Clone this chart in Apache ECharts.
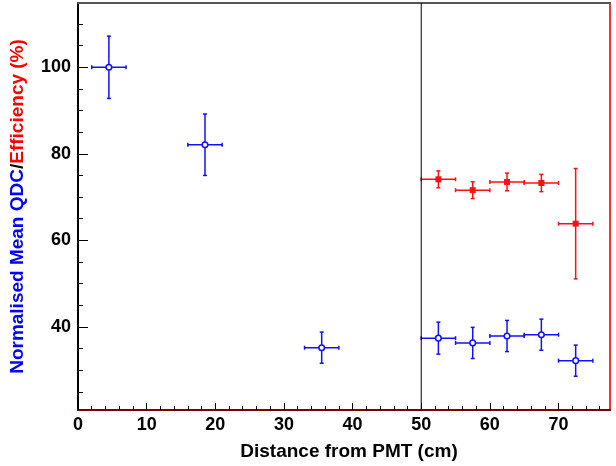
<!DOCTYPE html>
<html>
<head>
<meta charset="utf-8">
<script src="https://cdn.jsdelivr.net/npm/echarts@6/dist/echarts.min.js"></script>
<style>
html,body{margin:0;padding:0;background:#fff;}
#chart{width:616px;height:466px;}
</style>
</head>
<body>
<div id="chart"></div>
<script>
// Normalised mean QDC (blue, open circles)
const qdcX = [4.5, 18.5, 35.5, 52.5, 57.5, 62.5, 67.5, 72.5];
const qdcXErr = [2.5, 2.5, 2.5, 2.5, 2.5, 2.5, 2.5, 2.5];
const qdcY = [100, 82.1, 35.2, 37.4, 36.3, 37.9, 38.2, 32.2];
const qdcYErr = [7.2, 7.1, 3.6, 3.7, 3.6, 3.6, 3.6, 3.6];
// Efficiency (red, filled squares)
const effX = [52.5, 57.5, 62.5, 67.5, 72.5];
const effXErr = [2.5, 2.5, 2.5, 2.5, 2.5];
const effY = [74.1, 71.6, 73.5, 73.25, 63.85];
const effYErr = [1.95, 1.95, 2.05, 2.0, 12.75];
// axes
const xMin = 0, xMax = 77.5;
const yMin = 20.8, yMax = 114.85;
const xMajorTicks = [0, 10, 20, 30, 40, 50, 60, 70];
const xMinorTicks = [2, 4, 6, 8, 12, 14, 16, 18, 22, 24, 26, 28, 32, 34, 36, 38, 42, 44, 46, 48, 52, 54, 56, 58, 62, 64, 66, 68, 72, 74, 76];
const yMajorTicks = [40, 60, 80, 100];
const yMinorTicks = [25, 30, 35, 45, 50, 55, 65, 70, 75, 85, 90, 95, 105, 110];
const vLineX = 50;

const chart = echarts.init(document.getElementById('chart'), null, {renderer: 'canvas'});
const FONT = '"Liberation Sans", Arial, sans-serif';

function errData(xs, xe, ys, ye) {
  return xs.map((x, i) => [x, ys[i], xe[i], ye[i]]);
}

function makeRender(color, marker) {
  return function (params, api) {
    const x = api.value(0), y = api.value(1), xe = api.value(2), ye = api.value(3);
    const c = api.coord([x, y]);
    const l = api.coord([x - xe, y]);
    const r = api.coord([x + xe, y]);
    const t = api.coord([x, y + ye]);
    const b = api.coord([x, y - ye]);
    const st = {stroke: color, lineWidth: 1.5};
    const cap = 2;
    const children = [
      {type: 'line', shape: {x1: l[0], y1: c[1], x2: r[0], y2: c[1]}, style: st},
      {type: 'line', shape: {x1: c[0], y1: t[1], x2: c[0], y2: b[1]}, style: st},
      {type: 'line', shape: {x1: l[0], y1: c[1] - cap, x2: l[0], y2: c[1] + cap}, style: st},
      {type: 'line', shape: {x1: r[0], y1: c[1] - cap, x2: r[0], y2: c[1] + cap}, style: st},
      {type: 'line', shape: {x1: c[0] - cap, y1: t[1], x2: c[0] + cap, y2: t[1]}, style: st},
      {type: 'line', shape: {x1: c[0] - cap, y1: b[1], x2: c[0] + cap, y2: b[1]}, style: st}
    ];
    if (marker === 'circle') {
      children.push({type: 'circle', shape: {cx: c[0], cy: c[1], r: 2.8}, style: {fill: '#fff', stroke: color, lineWidth: 1.5}});
    } else {
      children.push({type: 'rect', shape: {x: c[0] - 3, y: c[1] - 3, width: 6, height: 6}, style: {fill: color}});
    }
    return {type: 'group', children: children};
  };
}

const labelStyle = {fontFamily: FONT, fontWeight: 'bold', fontSize: 18, color: '#000'};

chart.setOption({
  animation: false,
  backgroundColor: '#fff',
  grid: {left: 75, right: 6, top: 3, bottom: 54, containLabel: false},
  xAxis: [
    {
      type: 'value', min: xMin, max: xMax, position: 'bottom',
      axisLine: {show: true, onZero: false, lineStyle: {color: '#7a0000', width: 2}},
      axisTick: {show: true, inside: true, length: 7, customValues: xMajorTicks, lineStyle: {color: '#000', width: 1}},
      axisLabel: Object.assign({margin: 6, customValues: xMajorTicks, showMaxLabel: true}, labelStyle),
      splitLine: {show: false},
      name: 'Distance from PMT (cm)', nameLocation: 'middle', nameGap: 32,
      nameTextStyle: {fontFamily: FONT, fontWeight: 'bold', fontSize: 19, color: '#000', padding: [0, 0, 0, 10]}
    },
    {
      type: 'value', min: xMin, max: xMax, position: 'bottom',
      axisLine: {show: false, onZero: false},
      axisTick: {show: true, inside: true, length: 4, customValues: xMinorTicks, lineStyle: {color: '#000', width: 1}},
      axisLabel: {show: false}, splitLine: {show: false}
    },
    {
      type: 'value', min: xMin, max: xMax, position: 'top',
      axisLine: {show: true, onZero: false, lineStyle: {color: '#555', width: 2}},
      axisTick: {show: false}, axisLabel: {show: false}, splitLine: {show: false}
    }
  ],
  yAxis: [
    {
      type: 'value', min: yMin, max: yMax, position: 'left',
      axisLine: {show: true, onZero: false, lineStyle: {color: '#000', width: 2}},
      axisTick: {show: true, inside: true, length: 10, customValues: yMajorTicks, lineStyle: {color: '#000', width: 1}},
      axisLabel: Object.assign({margin: 7, customValues: yMajorTicks}, labelStyle),
      splitLine: {show: false},
      name: '{b|Normalised Mean QDC}{k|/}{r|Efficiency (%)}',
      nameLocation: 'middle', nameRotate: 90, nameGap: 51,
      nameTextStyle: {
        fontFamily: FONT, fontWeight: 'bold', fontSize: 19,
        rich: {
          b: {color: '#0000ff', fontFamily: FONT, fontWeight: 'bold', fontSize: 19},
          k: {color: '#000', fontFamily: FONT, fontWeight: 'bold', fontSize: 19},
          r: {color: '#ff0000', fontFamily: FONT, fontWeight: 'bold', fontSize: 19}
        }
      }
    },
    {
      type: 'value', min: yMin, max: yMax, position: 'left',
      axisLine: {show: false, onZero: false},
      axisTick: {show: true, inside: true, length: 5, customValues: yMinorTicks, lineStyle: {color: '#000', width: 1}},
      axisLabel: {show: false}, splitLine: {show: false}
    },
    {
      type: 'value', min: yMin, max: yMax, position: 'right',
      axisLine: {show: true, onZero: false, lineStyle: {color: '#ff3030', width: 2}},
      axisTick: {show: false}, axisLabel: {show: false}, splitLine: {show: false}
    }
  ],
  series: [
    {
      type: 'line', xAxisIndex: 0, yAxisIndex: 0,
      data: [[vLineX, yMin], [vLineX, yMax]],
      symbol: 'none', lineStyle: {color: '#000', width: 1}, silent: true
    },
    {
      type: 'custom', xAxisIndex: 0, yAxisIndex: 0,
      data: errData(qdcX, qdcXErr, qdcY, qdcYErr),
      renderItem: makeRender('#1010ff', 'circle'), silent: true
    },
    {
      type: 'custom', xAxisIndex: 0, yAxisIndex: 0,
      data: errData(effX, effXErr, effY, effYErr),
      renderItem: makeRender('#ff1010', 'square'), silent: true
    }
  ]
});
</script>
</body>
</html>
